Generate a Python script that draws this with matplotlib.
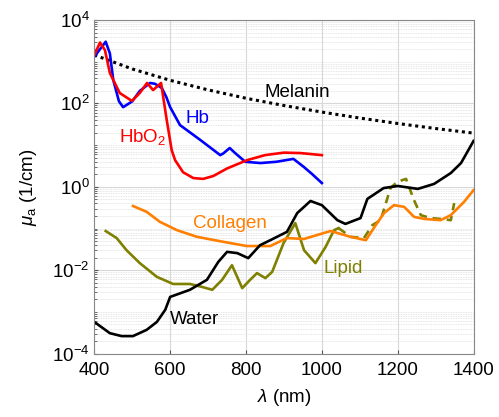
import matplotlib
matplotlib.use("Agg")
import matplotlib.pyplot as plt
import numpy as np
from matplotlib.ticker import LogLocator, FixedLocator, NullFormatter

plt.rcParams['font.family'] = ['Liberation Sans', 'DejaVu Sans']
plt.rcParams['mathtext.fontset'] = 'custom'
plt.rcParams['mathtext.it'] = 'Liberation Sans:italic'
plt.rcParams['mathtext.rm'] = 'Liberation Sans'

# ---- data (wavelength nm, log10 of mu_a in 1/cm) ----
hb_wl = [400, 415, 430, 441, 450, 465, 476, 500, 520, 547, 560, 578, 590, 600, 626, 680, 732, 740, 757, 770, 798, 838, 880, 925, 952, 975, 1000]
hb_log = [3.12, 3.30, 3.48, 3.20, 2.56, 2.05, 1.91, 2.05, 2.30, 2.49, 2.47, 2.37, 2.15, 1.91, 1.48, 1.12, 0.76, 0.80, 0.93, 0.82, 0.60, 0.57, 0.60, 0.67, 0.48, 0.30, 0.09]

hbo2_wl = [400, 415, 428, 441, 467, 499, 520, 539, 555, 576, 591, 604, 613, 634, 661, 687, 714, 750, 803, 850, 900, 943, 1000]
hbo2_log = [3.16, 3.46, 3.28, 2.73, 2.25, 2.06, 2.25, 2.49, 2.32, 2.49, 1.60, 0.88, 0.64, 0.35, 0.21, 0.19, 0.26, 0.44, 0.64, 0.76, 0.82, 0.81, 0.76]

mel_wl = [400, 500, 600, 700, 800, 900, 1000, 1100, 1200, 1300, 1400]
mel_val = [1450, 671, 358, 211, 133, 89, 62, 44.6, 33, 25, 19.4]

water_wl = [400, 441, 472, 502, 538, 565, 587, 600, 652, 697, 727, 750, 777, 806, 837, 864, 908, 935, 970, 1000, 1041, 1062, 1102, 1120, 1163, 1200, 1253, 1296, 1340, 1367, 1400]
water_log = [-3.24, -3.51, -3.58, -3.58, -3.43, -3.24, -2.95, -2.64, -2.47, -2.23, -1.80, -1.56, -1.59, -1.71, -1.40, -1.28, -1.08, -0.63, -0.34, -0.44, -0.80, -0.89, -0.75, -0.29, -0.03, 0.02, -0.05, 0.07, 0.33, 0.57, 1.10]

coll_wl = [502, 538, 573, 618, 671, 741, 802, 864, 908, 953, 1023, 1076, 1116, 1142, 1164, 1190, 1217, 1243, 1270, 1313, 1340, 1375, 1400]
coll_log = [-0.46, -0.60, -0.84, -1.04, -1.20, -1.32, -1.42, -1.42, -1.23, -1.25, -1.06, -1.20, -1.28, -0.92, -0.63, -0.44, -0.48, -0.72, -0.77, -0.80, -0.68, -0.36, -0.08]

lip_wl = [430, 459, 485, 520, 565, 608, 652, 684, 711, 737, 763, 790, 811, 829, 851, 869, 899, 930, 953, 983, 1010, 1032, 1044]
lip_log = [-1.06, -1.23, -1.52, -1.83, -2.16, -2.33, -2.33, -2.40, -2.47, -2.23, -1.88, -2.43, -2.23, -2.07, -2.19, -2.04, -1.35, -0.87, -1.52, -1.83, -1.44, -1.04, -0.99]
lipd_wl = [1044, 1076, 1111, 1133, 1155, 1181, 1199, 1222, 1243, 1261, 1287, 1313, 1340, 1349]
lipd_log = [-0.99, -1.20, -1.23, -0.92, -0.80, -0.03, 0.12, 0.19, -0.32, -0.68, -0.75, -0.77, -0.80, -0.39]

# label anchors (wavelength, log10 value)
labels = [
    ('Melanin', 935, 2.27, 'black'),
    ('Hb', 671, 1.65, '#0000ff'),
    (r'HbO$_2$', 527, 1.20, '#ff0000'),
    ('Collagen', 758, -0.87, '#ff7f00'),
    ('Lipid', 1057, -1.95, '#7f7f00'),
    ('Water', 663, -3.17, 'black'),
]

BLUE = '#0000ff'
RED = '#ff0000'
ORANGE = '#ff7f00'
OLIVE = '#7f7f00'

fig = plt.figure(figsize=(4.99, 4.17), dpi=100)
ax = fig.add_axes([0.189, 0.152, 0.760, 0.800])
ax.set_yscale('log')
ax.set_xlim(400, 1400)
ax.set_ylim(1e-4, 1e4)

lw = 1.9
ax.plot(mel_wl, mel_val, color='black', lw=2.2, linestyle=(0, (1, 1.2)))
ax.plot(hb_wl, 10 ** np.array(hb_log), color=BLUE, lw=lw)
ax.plot(hbo2_wl, 10 ** np.array(hbo2_log), color=RED, lw=lw)
ax.plot(lip_wl, 10 ** np.array(lip_log), color=OLIVE, lw=lw)
ax.plot(lipd_wl, 10 ** np.array(lipd_log), color=OLIVE, lw=lw, linestyle=(0, (3.2, 2.2)))
ax.plot(coll_wl, 10 ** np.array(coll_log), color=ORANGE, lw=lw)
ax.plot(water_wl, 10 ** np.array(water_log), color='black', lw=lw)

fs = 13.5
for txt, xw, ly, c in labels:
    ax.text(xw, 10 ** ly, txt, color=c, fontsize=fs, ha='center', va='center')

ax.set_xticks([400, 600, 800, 1000, 1200, 1400])
ax.yaxis.set_major_locator(FixedLocator([1e-4, 1e-2, 1e0, 1e2, 1e4]))
ax.yaxis.set_minor_locator(LogLocator(base=10, subs=np.arange(1, 10), numticks=100))
ax.yaxis.set_minor_formatter(NullFormatter())
ax.tick_params(axis='both', which='both', direction='in', labelsize=fs, colors='#555555', labelcolor='black')
ax.tick_params(axis='both', which='major', length=3)
ax.tick_params(axis='x', which='major', pad=6)
ax.tick_params(axis='y', which='minor', length=2)
ax.grid(True, which='major', color='#d8d8d8', lw=0.8)
ax.grid(True, which='minor', axis='y', color='#dedede', lw=0.6, linestyle=(0, (1, 1)))
for s in ax.spines.values():
    s.set_color('#888888')
    s.set_linewidth(0.8)

ax.set_xlabel(r'$\lambda$ (nm)', fontsize=fs)
ax.set_ylabel(r'$\mu_{\rm a}$ (1/cm)', fontsize=fs)
ax.yaxis.set_label_coords(-0.145, 0.5)
ax.xaxis.set_label_coords(0.5, -0.10)

fig.savefig('out.png', dpi=100)
